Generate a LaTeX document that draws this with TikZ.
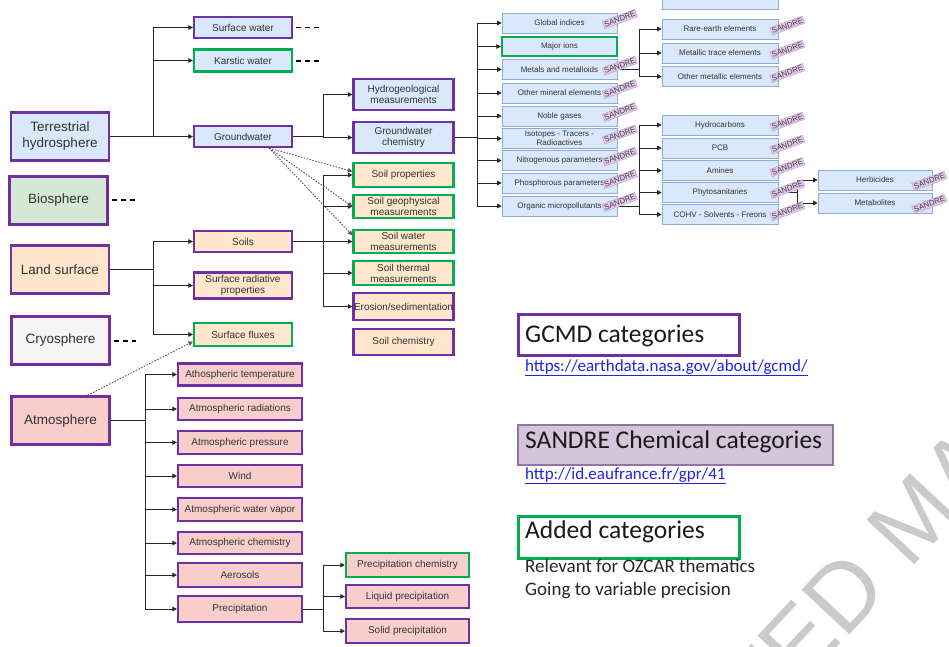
\documentclass[tikz,border=0pt]{standalone}
\usepackage{fontspec}
\setmainfont{Liberation Sans}
\newfontfamily\calib{Carlito}
\usetikzlibrary{arrows.meta,calc}
\definecolor{gpurple}{HTML}{7030A0}
\definecolor{agreen}{HTML}{00B050}
\definecolor{lblue}{HTML}{DAE8FC}
\definecolor{lorange}{HTML}{FFE6CC}
\definecolor{lpink}{HTML}{F8CECC}
\definecolor{lgreen}{HTML}{D5E8D4}
\definecolor{lgray}{HTML}{F5F5F5}
\definecolor{chemblue}{HTML}{8EACD6}
\definecolor{txt}{HTML}{333333}
\definecolor{tagfill}{HTML}{E3C9EC}
\definecolor{tagdraw}{HTML}{B58FC8}
\definecolor{sandreleg}{HTML}{D3C6DB}
\definecolor{sandrelegd}{HTML}{9673A6}
\definecolor{linkblue}{HTML}{2323E6}
\definecolor{wmark}{HTML}{CACACA}
\begin{document}
\begin{tikzpicture}[x=1pt,y=-1pt,
  box/.style={line width=2.2pt, inner sep=0.5pt, align=center, text=txt, font=\fontsize{10}{11}\selectfont},
  pbox/.style={box, draw=gpurple},
  gbox/.style={box, draw=agreen},
  bigbox/.style={line width=2.6pt, draw=gpurple, align=center, text=txt, font=\fontsize{13.5}{16}\selectfont, minimum width=98, minimum height=48},
  chem/.style={draw=chemblue, line width=0.6pt, fill=lblue, minimum height=20, inner sep=0.5pt, align=center, text=txt, font=\fontsize{8}{9}\selectfont},
  tag/.style={fill=tagfill, draw=tagdraw, line width=0.3pt, rotate=20, inner sep=1.1pt, font=\fontsize{7.8}{8}\selectfont, text=black!75},
  conn/.style={draw=black!85, line width=0.8pt},
  arr/.style={conn, -{Triangle[length=4.5pt,width=4.5pt]}},
  dots/.style={draw=black!65, line width=0.9pt, dash pattern=on 1.6pt off 1.4pt, -{Triangle[length=4.5pt,width=4.5pt]}},
  dashline/.style={draw=black, line width=1.6pt, dash pattern=on 5pt off 4pt},
  legtitle/.style={anchor=base west, inner sep=0, text=black!90, font=\calib\fontsize{25.5}{30}\selectfont},
  legtext/.style={anchor=base west, inner sep=0, text=black!85, font=\calib\fontsize{19}{22}\selectfont},
  leglink/.style={anchor=base west, inner sep=0, text=linkblue, font=\calib\fontsize{17}{20}\selectfont},
  wm/.style={inner sep=0, text=wmark, rotate=47, font=\fontsize{95}{100}\selectfont}
]
\useasboundingbox (0,0) rectangle (949,646);
\fill[white] (0,0) rectangle (949,646);

% watermark
\node[wm, anchor=base east] (wm1) at (891,590) {ACCEPTED};
\node[wm, anchor=base west] (wm2) at (909,571) {MANUSCRIPT};

% level 1
\node[bigbox, fill=lblue] (th) at (60,136.5) {Terrestrial\\hydrosphere};
\node[bigbox, fill=lgreen] (bio) at (58.5,200.5) {Biosphere};
\node[bigbox, fill=lorange] (land) at (60,269.5) {Land surface};
\node[bigbox, fill=lgray] (cryo) at (60.5,340.5) {Cryosphere};
\node[bigbox, fill=lpink] (atmo) at (60.5,420.5) {Atmosphere};

% level 2
\node[pbox, fill=lblue, minimum width=98, minimum height=21] (sw) at (243,27.5) {Surface water};
\node[gbox, fill=lblue, minimum width=98, minimum height=22] (kw) at (243,60.5) {Karstic water};
\node[pbox, fill=lblue, minimum width=98, minimum height=21] (gw) at (243,136.5) {Groundwater};
\node[pbox, fill=lorange, minimum width=98, minimum height=21] (soils) at (243,241.5) {Soils};
\node[pbox, fill=lorange, minimum width=98, minimum height=26] (srp) at (243,285.5) {Surface radiative\\properties};
\node[gbox, fill=lorange, minimum width=98, minimum height=23] (sf) at (243,334.5) {Surface fluxes};

% atmosphere children
\node[pbox, fill=lpink, minimum width=124, minimum height=22] (at1) at (240,374.5) {Athospheric temperature};
\node[pbox, fill=lpink, minimum width=124, minimum height=22] (at2) at (240,409) {Atmospheric radiations};
\node[pbox, fill=lpink, minimum width=124, minimum height=23] (at3) at (240,442.5) {Atmospheric pressure};
\node[pbox, fill=lpink, minimum width=124, minimum height=22] (at4) at (240,476) {Wind};
\node[pbox, fill=lpink, minimum width=124, minimum height=23] (at5) at (240,509.5) {Atmospheric water vapor};
\node[pbox, fill=lpink, minimum width=124, minimum height=22] (at6) at (240,543) {Atmospheric chemistry};
\node[pbox, fill=lpink, minimum width=124, minimum height=24] (at7) at (240,575) {Aerosols};
\node[pbox, fill=lpink, minimum width=124, minimum height=26] (at8) at (240,609) {Precipitation};

% precipitation children
\node[gbox, fill=lpink, minimum width=123, minimum height=24] (pc) at (407.5,565) {Precipitation chemistry};
\node[pbox, fill=lpink, minimum width=123, minimum height=23] (lp) at (407.5,596.5) {Liquid precipitation};
\node[pbox, fill=lpink, minimum width=123, minimum height=24] (solid) at (407.5,631) {Solid precipitation};

% level 3
\node[pbox, fill=lblue, minimum width=100, minimum height=31] (hm) at (403.5,94.5) {Hydrogeological\\measurements};
\node[pbox, fill=lblue, minimum width=100, minimum height=31] (gc) at (403.5,137.5) {Groundwater\\chemistry};
\node[gbox, fill=lorange, minimum width=100, minimum height=24] (sp) at (403.5,175) {Soil properties};
\node[gbox, fill=lorange, minimum width=100, minimum height=23] (sg) at (403.5,206.5) {Soil geophysical\\measurements};
\node[gbox, fill=lorange, minimum width=100, minimum height=23] (swm) at (403.5,241.5) {Soil water\\measurements};
\node[gbox, fill=lorange, minimum width=100, minimum height=24] (stm) at (403.5,273) {Soil thermal\\measurements};
\node[pbox, fill=lorange, minimum width=100, minimum height=27] (es) at (403.5,306.5) {Erosion/sedimentation};
\node[pbox, fill=lorange, minimum width=100, minimum height=26] (sc) at (403.5,342) {Soil chemistry};

% chemistry column
\node[chem, minimum width=115] (c1) at (559.5,23) {Global indices};
\node[chem, minimum width=115, draw=agreen, line width=2.2pt, minimum height=19] (c2) at (559.5,46.5) {Major ions};
\node[chem, minimum width=115] (c3) at (559.5,69.5) {Metals and metalloids};
\node[chem, minimum width=115] (c4) at (559.5,93) {Other mineral elements};
\node[chem, minimum width=115] (c5) at (559.5,116) {Noble gases};
\node[chem, minimum width=115] (c6) at (559.5,138.5) {Isotopes - Tracers -\\Radioactives};
\node[chem, minimum width=115] (c7) at (559.5,160.5) {Nitrogenous parameters};
\node[chem, minimum width=115] (c8) at (559.5,183) {Phosphorous parameters};
\node[chem, minimum width=115] (c9) at (559.5,206) {Organic micropollutants};

% right column
\node[chem, minimum width=116] (r0) at (720,-1) {};
\node[chem, minimum width=116] (r1) at (720,29) {Rare-earth elements};
\node[chem, minimum width=116] (r2) at (720,53) {Metallic trace elements};
\node[chem, minimum width=116] (r3) at (720,76.5) {Other metallic elements};
\node[chem, minimum width=116] (o1) at (720,125) {Hydrocarbons};
\node[chem, minimum width=116] (o2) at (720,148) {PCB};
\node[chem, minimum width=116] (o3) at (720,170.5) {Amines};
\node[chem, minimum width=116] (o4) at (720,192.5) {Phytosanitaries};
\node[chem, minimum width=116] (o5) at (720,214.5) {COHV - Solvents - Freons};
\node[chem, minimum width=114] (h1) at (875,180) {Herbicides};
\node[chem, minimum width=114] (h2) at (875,203) {Metabolites};

% connectors
\coordinate (jt) at (153,136.5);
\draw[conn] (th.east) -- (jt);
\foreach \n in {sw,kw,gw} \draw[arr] (jt) |- (\n.west);
\coordinate (jl) at (153,269.5);
\draw[conn] (land.east) -- (jl);
\foreach \n in {soils,srp,sf} \draw[arr] (jl) |- (\n.west);
\coordinate (ja) at (145,420.5);
\draw[conn] (atmo.east) -- (ja);
\foreach \n in {at1,at2,at3,at4,at5,at6,at7,at8} \draw[arr] (ja) |- (\n.west);
\coordinate (jp) at (323,609);
\draw[conn] (at8.east) -- (jp);
\foreach \n in {pc,lp,solid} \draw[arr] (jp) |- (\n.west);
\coordinate (jg) at (323,136.5);
\draw[conn] (gw.east) -- (jg);
\foreach \n in {hm,gc} \draw[arr] (jg) |- (\n.west);
\coordinate (js) at (323,241.5);
\draw[conn] (soils.east) -- (js);
\foreach \n in {sp,sg,swm,stm,es} \draw[arr] (js) |- (\n.west);
\coordinate (jc) at (477,137.5);
\draw[conn] (gc.east) -- (jc);
\foreach \n in {c1,c2,c3,c4,c5,c6,c7,c8,c9} \draw[arr] (jc) |- (\n.west);
\coordinate (jm) at (639,69.5);
\draw[conn] (c3.east) -- (jm);
\foreach \n in {r1,r2,r3} \draw[arr] (jm) |- (\n.west);
\coordinate (jo) at (639,206);
\draw[conn] (c9.east) -- (jo);
\foreach \n in {o1,o2,o3,o4,o5} \draw[arr] (jo) |- (\n.west);
\coordinate (jh) at (797,192.5);
\draw[conn] (o4.east) -- (jh);
\foreach \n in {h1,h2} \draw[arr] (jh) |- (\n.west);

% dotted links
\draw[dots] (gw.-24) -- (sp.176);
\draw[dots] (gw.-24) -- (sg.west);
\draw[dots] (gw.-24) -- (swm.173);
\draw[dots] (atmo.43) -- (sf.188);

% dashed stubs
\coordinate (swd) at (319,27.5);
\coordinate (kwd) at (319,61);
\coordinate (biod) at (136,200);
\coordinate (cryod) at (136,341);
\draw[dashline] ($(sw.east)+(3,0)$) -- (swd);
\draw[dashline] ($(kw.east)+(3,0.5)$) -- (kwd);
\draw[dashline] ($(bio.east)+(3,-0.5)$) -- (biod);
\draw[dashline] ($(cryo.east)+(3,0.5)$) -- (cryod);

% SANDRE tags
\foreach \n in {c1,c3,c4,c5,c6,c7,c8,c9} \node[tag] (tag\n) at ($(\n.east)+(2.5,-4)$) {SANDRE};
\foreach \n in {r1,r2,r3,o1,o2,o3,o4,o5} \node[tag] (tag\n) at ($(\n.east)+(9,-3.5)$) {SANDRE};
\foreach \n in {h1,h2} \node[tag] (tag\n) at ($(\n.east)+(-3,1)$) {SANDRE};

% legend
\node[draw=gpurple, line width=2.4pt, minimum width=221, minimum height=41, anchor=north west] (gcmd) at (517.2,313.2) {};
\node[legtitle] (gcmdt) at (525,342) {GCMD categories};
\node[leglink] (gcmdl) at (525,371) {\underline{https://earthdata.nasa.gov/about/gcmd/}};
\node[draw=sandrelegd, fill=sandreleg, line width=2pt, minimum width=315, minimum height=40, anchor=north west] (sand) at (517,424) {};
\node[legtitle] (sandt) at (525,448) {SANDRE Chemical categories};
\node[leglink] (sandl) at (525,479) {\underline{http://id.eaufrance.fr/gpr/41}};
\node[draw=agreen, line width=2.4pt, minimum width=221, minimum height=42, anchor=north west] (added) at (517.2,515.2) {};
\node[legtitle] (addedt) at (525,538) {Added categories};
\node[legtext] (rel) at (525,572) {Relevant for OZCAR thematics};
\node[legtext] (going) at (525,595) {Going to variable precision};
\end{tikzpicture}
\end{document}
